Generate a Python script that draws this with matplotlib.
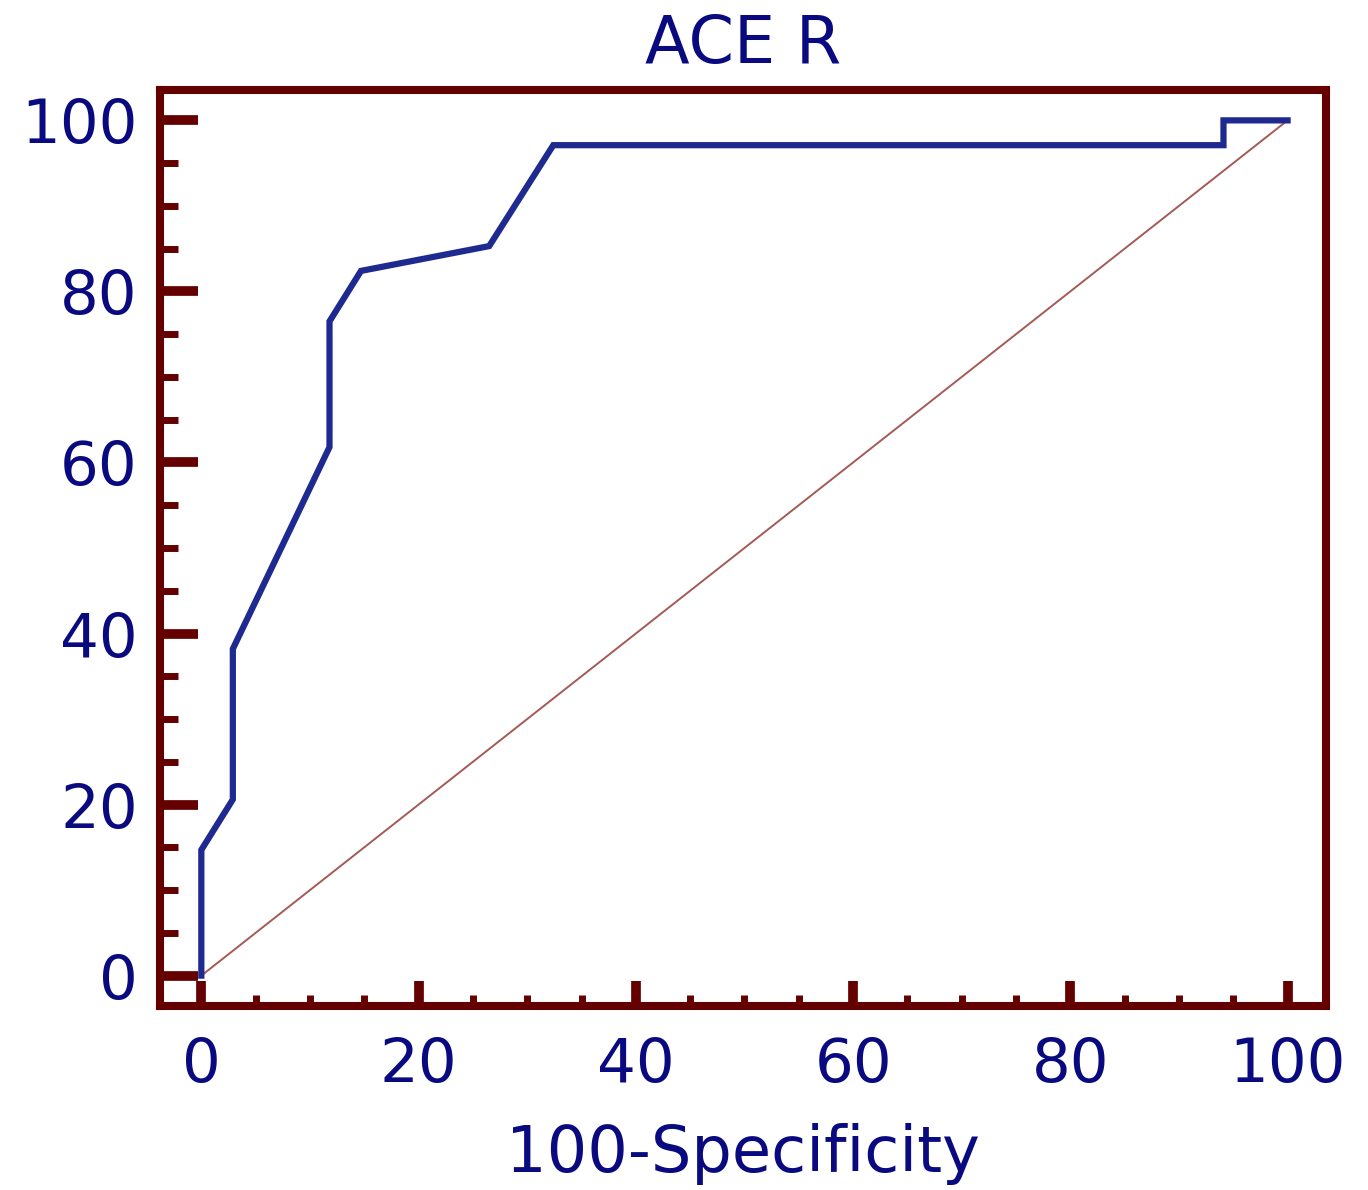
import numpy as np
import matplotlib
matplotlib.use('Agg')
import matplotlib.pyplot as plt
from matplotlib.ticker import MultipleLocator

# ROC curve points (100-specificity, sensitivity)
fpr = [0, 0, 2.9, 2.9, 11.8, 11.8, 14.7, 26.5, 32.4, 94.1, 94.1, 100]
tpr = [0, 14.7, 20.6, 38.2, 61.8, 76.5, 82.4, 85.3, 97.1, 97.1, 100, 100]
diag = [0, 100]
xticks = [0, 20, 40, 60, 80, 100]
yticks = [0, 20, 40, 60, 80, 100]

navy = '#0a0a80'
dark_red = '#640000'

fig = plt.figure(figsize=(13.68, 11.9), dpi=100)
ax = fig.add_axes([0.117, 0.155, 0.852, 0.769])

ax.plot(diag, diag, color='#a45a55', lw=1.4, zorder=2)
ax.plot(fpr, tpr, color='#1e2a90', lw=4.5, solid_joinstyle='miter', zorder=3)

ax.set_xlim(-3.8, 103.5)
ax.set_ylim(-3.5, 103.5)

for s in ax.spines.values():
    s.set_color(dark_red)
    s.set_linewidth(5.8)

ax.set_xticks(xticks)
ax.set_yticks(yticks)
ax.xaxis.set_minor_locator(MultipleLocator(5))
ax.yaxis.set_minor_locator(MultipleLocator(5))

ax.tick_params(axis='y', which='major', direction='in', length=27, width=7,
               color=dark_red, pad=16, labelsize=44, labelcolor=navy)
ax.tick_params(axis='y', which='minor', direction='in', length=13, width=5,
               color=dark_red)
ax.tick_params(axis='x', which='major', direction='in', length=18, width=7,
               color=dark_red, pad=22, labelsize=44, labelcolor=navy)
ax.tick_params(axis='x', which='minor', direction='in', length=8, width=5,
               color=dark_red)
for lab in ax.get_xticklabels() + ax.get_yticklabels():
    lab.set_family('DejaVu Sans')

ax.set_xlabel('100-Specificity', fontsize=46, color=navy,
              family='DejaVu Sans', labelpad=20)
ax.set_title('ACE R', fontsize=47, color=navy, family='DejaVu Sans', pad=20)

fig.savefig('out.png', dpi=100)
